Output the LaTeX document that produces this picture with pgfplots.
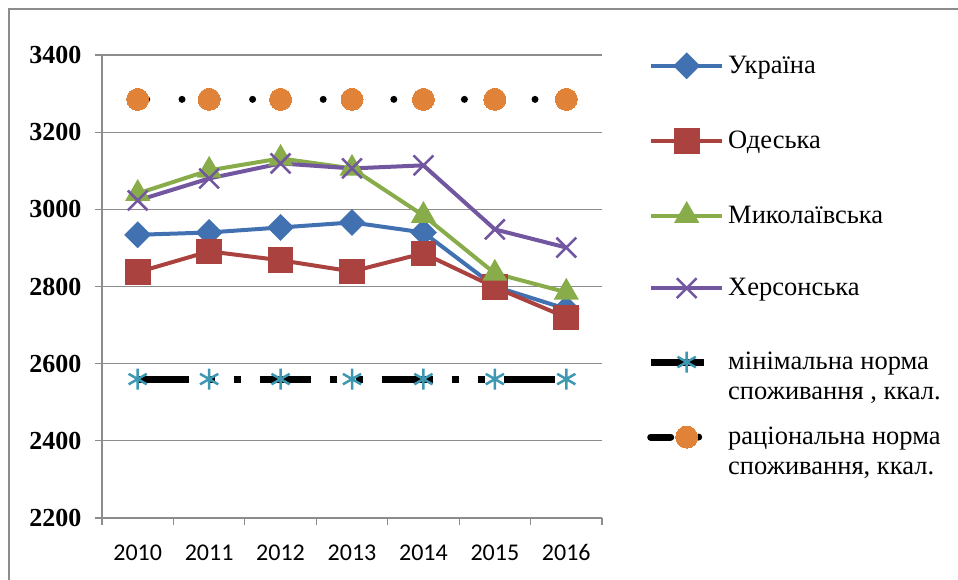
\documentclass[border=0pt]{standalone}
\usepackage{pgfplots}
\pgfplotsset{compat=1.18}
\usepackage{fontspec}
\setmainfont{Liberation Serif}
\newfontfamily\xfont{Carlito}
\definecolor{cUkr}{RGB}{65,113,176}
\definecolor{cOd}{RGB}{170,66,63}
\definecolor{cMyk}{RGB}{137,172,75}
\definecolor{cKh}{RGB}{114,86,160}
\definecolor{cCy}{RGB}{62,152,178}
\definecolor{cOr}{RGB}{224,131,57}
\definecolor{cGr}{RGB}{140,140,140}
\newcommand\LE[1]{\raisebox{0pt}[17pt][6pt]{\begin{tabular}[t]{@{}l@{}}#1\end{tabular}}}
\begin{document}
\begin{tikzpicture}
\begin{axis}[
  at={(102pt,62pt)}, anchor=south west,
  scale only axis, width=500pt, height=463pt,
  xmin=-0.5, xmax=6.5, ymin=2200, ymax=3400,
  clip=false,
  axis lines*=left,
  axis line style={draw=cGr, line width=1.2pt},
  ytick={2200,2400,...,3400},
  yticklabel={\textbf{\pgfmathprintnumber[assume math mode=true,set thousands separator={}]{\tick}}},
  ymajorgrids, grid style={draw=cGr, line width=1.2pt},
  xtick={0,...,6},
  xticklabels={2010,2011,2012,2013,2014,2015,2016},
  xtick style={draw=none},
  extra x ticks={-0.5,0.5,...,6.5},
  extra x tick labels={},
  extra x tick style={xtick style={draw=cGr, line width=1.2pt}},
  ytick style={draw=cGr, line width=1.2pt},
  tick align=outside, major tick length=7pt,
  /pgf/number format/assume math mode=true,
  /pgf/number format/set thousands separator={},
  yticklabel style={font=\fontsize{26}{30}\selectfont\bfseries, xshift=-10pt},
  xticklabel style={font=\xfont\fontsize{24}{29}\selectfont, yshift=-16pt},
  legend style={at={(rel axis cs:1,1)}, anchor=north west, xshift=45pt, yshift=0pt,
    draw=none, fill=none, inner sep=0pt, row sep=53.5pt, column sep=3pt,
    nodes={inner sep=0pt}, font=\fontsize{26.5}{30}\selectfont},
  legend cell align=left,
  legend image code/.code={\draw[mark repeat=2,mark phase=2,#1] plot coordinates {(0pt,0pt) (36pt,0pt) (71pt,0pt)};},
]
\addplot[color=cUkr, line width=4pt, mark=square*, mark size=7.5pt, mark options={rotate=45, solid}]
  coordinates {(0,2934)(1,2940)(2,2953)(3,2966)(4,2940)(5,2800)(6,2742)};
\addlegendentry{\LE{Україна}}
\addplot[color=cOd, line width=4pt, mark=square*, mark size=10.8pt, mark options={solid}]
  coordinates {(0,2837)(1,2891)(2,2868)(3,2839)(4,2886)(5,2798)(6,2720)};
\addlegendentry{\LE{Одеська}}
\addplot[color=cMyk, line width=4pt, mark=triangle*, mark size=10.5pt, mark options={solid}]
  coordinates {(0,3041)(1,3101)(2,3132)(3,3106)(4,2984)(5,2834)(6,2785)};
\addlegendentry{\LE{Миколаївська}}
\addplot[color=cKh, line width=4pt, mark=x, mark size=14pt, mark options={solid, line width=2.5pt}]
  coordinates {(0,3023)(1,3080)(2,3119)(3,3106)(4,3114)(5,2948)(6,2901)};
\addlegendentry{\LE{Херсонська}}
\addplot[color=black, line width=7pt, dash pattern=on 51pt off 19pt on 7pt off 19pt on 7pt off 19pt,
  mark=asterisk, mark size=10.5pt, mark options={solid, draw=cCy, line width=2.5pt},
  legend image post style={dash pattern=on 53pt off 30pt}]
  coordinates {(0,2560)(1,2560)(2,2560)(3,2560)(4,2560)(5,2560)(6,2560)};
\addlegendentry{\LE{мінімальна норма\\споживання , ккал.}}
\addplot[color=black, line width=7pt, line cap=round, dash pattern=on 0pt off 35.3pt, dash phase=26.3pt,
  mark=*, mark size=11pt, mark options={solid, draw=cOr, fill=cOr, line width=0pt},
  legend image post style={dash pattern=on 20pt off 28pt on 0pt off 40pt, dash phase=0pt}]
  coordinates {(0,3285)(1,3285)(2,3285)(3,3285)(4,3285)(5,3285)(6,3285)};
\addlegendentry{\LE{раціональна норма\\споживання, ккал.}}
\end{axis}
\draw[cGr, line width=2pt] (9pt,0pt) -- (9pt,571pt) -- (958pt,571pt);
\pgfresetboundingbox
\path[use as bounding box] (0pt,0pt) rectangle (958pt,580pt);
\end{tikzpicture}
\end{document}
